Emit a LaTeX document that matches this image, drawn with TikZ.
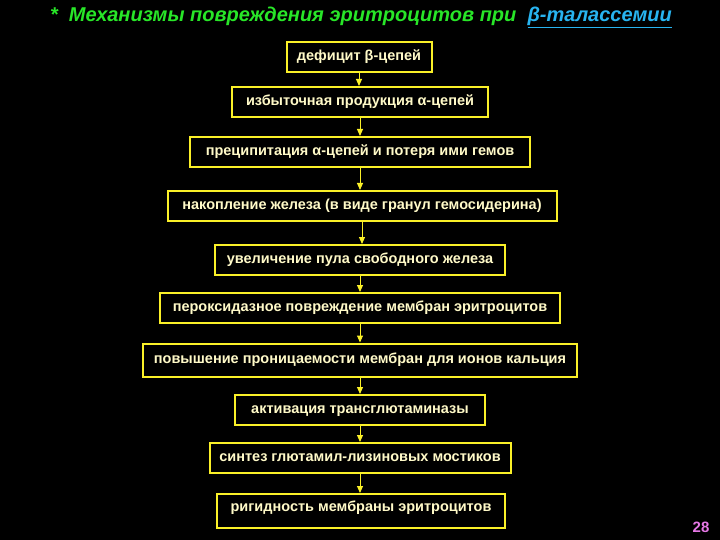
\documentclass[tikz,border=0pt]{standalone}
\usepackage{fontspec}
\setmainfont{Liberation Sans}
\usetikzlibrary{arrows.meta}
\definecolor{byel}{RGB}{250,240,40}
\definecolor{txt}{RGB}{255,250,200}
\definecolor{tgreen}{RGB}{40,230,40}
\definecolor{tcyan}{RGB}{40,180,240}
\definecolor{pg}{RGB}{230,120,230}
\begin{document}
\begin{tikzpicture}[x=1pt,y=-1pt,
  bx/.style={draw=byel,line width=2pt,fill=black,text=txt,font=\bfseries\fontsize{14.5}{16}\selectfont,minimum height=30pt,inner sep=0pt,text height=10pt,text depth=3pt},
  ar/.style={draw=byel,line width=1pt,-{Triangle[length=7pt,width=6pt]}}]
\fill[black] (0,0) rectangle (720,540);
\useasboundingbox (0,0) rectangle (720,540);
\node[font=\bfseries\itshape\fontsize{20}{22}\selectfont,text=tgreen] (t) at (361,17) {* \ Механизмы повреждения эритроцитов при \ \textcolor{tcyan}{\underline{β-талассемии}}};
\node[bx,minimum width=145pt] (b1) at (359,57) {дефицит β-цепей};
\node[bx,minimum width=256pt] (b2) at (360,102) {избыточная продукция α-цепей};
\node[bx,minimum width=340pt] (b3) at (360,152) {преципитация α-цепей и потеря ими гемов};
\node[bx,minimum width=389pt] (b4) at (362,206) {накопление железа (в виде гранул гемосидерина)};
\node[bx,minimum width=290pt] (b5) at (360,260) {увеличение пула свободного железа};
\node[bx,minimum width=400pt] (b6) at (360,308) {пероксидазное повреждение мембран эритроцитов};
\node[bx,minimum width=434pt,minimum height=33pt] (b7) at (360,360) {повышение проницаемости мембран для ионов кальция};
\node[bx,minimum width=250pt] (b8) at (360,410) {активация трансглютаминазы};
\node[bx,minimum width=301pt] (b9) at (360,458) {синтез глютамил-лизиновых мостиков};
\node[bx,minimum width=288pt,minimum height=34pt,text depth=10pt] (b10) at (361,511) {ригидность мембраны эритроцитов};
\node[font=\bfseries\fontsize{15}{16}\selectfont,text=pg] (pn) at (701,527) {28};
\foreach \a/\b in {b1/b2,b2/b3,b3/b4,b4/b5,b5/b6,b6/b7,b7/b8,b8/b9,b9/b10}
  \draw[ar] (\a.south) -- (\a.south |- \b.north);
\end{tikzpicture}
\end{document}
